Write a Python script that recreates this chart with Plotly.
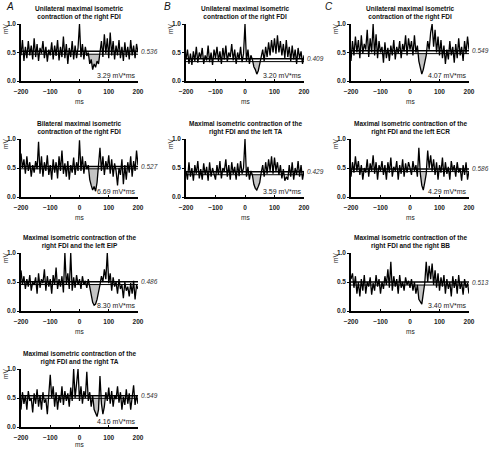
import plotly.graph_objects as go

# ---------------- data ----------------
ms = list(range(-200, 205, 5))

A1 = [0.45,0.72,0.35,0.6,0.4,0.7,0.45,0.62,0.38,0.75,0.42,0.65,0.35,0.58,0.48,0.7,0.4,0.6,0.34,0.55,
      0.45,0.68,0.38,0.62,0.44,0.72,0.36,0.6,0.42,0.78,0.4,0.65,0.3,0.58,0.42,0.7,0.38,0.62,0.4,0.58,
      1.0,
      0.42,0.65,0.38,0.6,0.44,0.5,0.3,0.38,0.2,0.3,0.24,0.35,0.3,0.5,0.7,0.42,0.82,0.48,0.75,0.4,
      0.85,0.45,0.7,0.38,0.62,0.45,0.72,0.4,0.6,0.35,0.68,0.42,0.6,0.38,0.72,0.45,0.62,0.4,0.65,0.5]

B1 = [0.38,0.55,0.3,0.48,0.28,0.52,0.35,0.6,0.32,0.5,0.4,0.58,0.3,0.45,0.36,0.62,0.33,0.5,0.28,0.55,
      0.4,0.6,0.35,0.52,0.3,0.58,0.38,0.62,0.34,0.5,0.42,0.65,0.36,0.55,0.3,0.5,0.38,0.6,0.33,0.48,
      1.0,
      0.35,0.55,0.3,0.45,0.38,0.25,0.2,0.12,0.18,0.3,0.42,0.55,0.35,0.6,0.42,0.68,0.45,0.72,0.5,0.75,
      0.48,0.8,0.5,0.7,0.45,0.65,0.4,0.72,0.42,0.6,0.35,0.62,0.38,0.55,0.3,0.58,0.4,0.52,0.3,0.45]

C1 = [0.35,0.7,0.45,0.78,0.5,0.72,0.4,0.8,0.48,0.65,0.55,0.9,0.42,0.75,0.5,1.0,0.45,0.82,0.4,0.7,
      0.5,0.6,0.32,0.68,0.4,0.58,0.35,0.62,0.45,0.72,0.38,0.6,0.48,0.7,0.4,0.65,0.52,0.8,0.45,0.75,
      0.55,
      0.7,0.45,0.8,0.5,0.62,0.35,0.25,0.12,0.2,0.3,0.45,0.7,0.55,0.85,1.0,0.6,0.9,0.5,0.78,0.45,
      0.72,0.4,0.62,0.3,0.55,0.38,0.7,0.45,0.6,0.32,0.65,0.4,0.75,0.45,0.6,0.35,0.7,0.48,0.78,0.55]

A2 = [0.75,0.5,0.65,0.4,0.7,0.45,0.6,0.35,0.55,0.42,0.62,0.48,0.95,0.4,0.7,0.35,0.6,0.45,0.72,0.38,
      0.55,0.3,0.65,0.42,0.6,0.32,0.7,0.45,0.8,0.4,0.58,0.35,0.62,0.3,0.55,0.42,0.68,0.38,0.6,0.45,
      0.98,
      0.45,0.7,0.4,0.62,0.48,0.55,0.3,0.2,0.12,0.18,0.1,0.25,0.5,0.85,0.45,0.7,0.38,0.62,0.48,0.72,
      0.4,0.65,0.35,0.58,0.45,0.2,0.5,0.38,0.65,0.22,0.55,0.3,0.6,0.42,0.7,0.35,0.62,0.45,0.8,0.55]

B2 = [0.45,0.3,0.6,0.35,0.5,0.28,0.55,0.4,0.62,0.32,0.48,0.3,0.58,0.38,0.52,0.28,0.6,0.35,0.5,0.42,
      0.3,0.55,0.38,0.62,0.32,0.5,0.45,0.65,0.35,0.55,0.3,0.6,0.4,0.52,0.3,0.58,0.36,0.62,0.4,0.5,
      1.0,
      0.35,0.52,0.3,0.45,0.38,0.22,0.15,0.12,0.18,0.25,0.42,0.55,0.35,0.6,0.4,0.65,0.45,0.7,0.4,0.68,
      0.45,0.6,0.38,0.55,0.32,0.48,0.28,0.35,0.3,0.55,0.35,0.6,0.3,0.5,0.38,0.62,0.35,0.55,0.3,0.45]

C2 = [0.35,0.6,0.42,0.7,0.45,0.62,0.38,0.55,0.3,0.5,0.42,0.65,0.35,0.58,0.45,0.72,0.4,0.6,0.3,0.55,
      0.45,0.62,0.38,0.55,0.3,0.6,0.42,0.68,0.35,0.52,0.45,0.62,0.3,0.55,0.4,0.65,0.35,0.58,0.42,0.6,
      0.5,
      0.38,0.62,0.45,0.55,0.35,0.85,0.4,0.2,0.12,0.25,0.4,0.8,0.5,0.72,0.45,0.65,0.38,0.6,0.3,0.55,
      0.42,0.68,0.35,0.6,0.4,0.52,0.3,0.62,0.45,0.55,0.35,0.6,0.42,0.5,0.28,0.55,0.38,0.6,0.3,0.45]

A3 = [0.7,0.45,0.6,0.38,0.55,0.42,0.62,0.35,0.5,0.45,0.58,0.3,0.65,0.4,0.55,0.48,0.72,0.35,0.6,0.42,
      0.55,0.3,0.62,0.45,0.75,0.38,0.55,0.42,0.6,0.32,1.0,0.45,0.65,0.38,1.0,0.35,0.58,0.4,0.62,0.45,
      0.55,
      0.38,0.6,0.45,0.52,0.4,0.55,0.42,0.25,0.15,0.1,0.12,0.2,0.3,0.45,0.6,0.5,0.72,0.55,1.0,0.48,
      0.65,0.35,0.58,0.42,0.5,0.3,0.55,0.38,0.45,0.22,0.5,0.35,0.42,0.25,0.48,0.3,0.52,0.2,0.45,0.38]

A4 = [0.3,0.6,0.4,0.55,0.3,0.62,0.45,0.5,0.25,0.58,0.4,0.65,0.35,0.55,0.3,0.6,0.42,0.48,0.22,0.55,
      0.9,0.5,0.7,0.35,0.6,0.3,0.55,0.42,0.7,0.38,0.62,0.45,0.58,0.35,0.68,0.45,1.0,0.5,0.72,1.0,
      0.45,
      0.7,0.4,0.62,0.5,0.95,0.45,0.6,0.35,0.55,0.3,0.25,0.18,0.3,0.88,0.4,0.22,0.35,0.6,0.45,0.68,
      0.4,0.62,0.35,0.55,0.48,0.7,0.42,0.6,0.3,0.52,0.38,0.65,0.4,0.58,0.3,0.5,0.72,0.38,0.55,0.4]

C3 = [0.55,0.65,0.4,0.6,0.3,0.5,0.25,0.55,0.35,0.62,0.3,0.5,0.42,0.58,0.28,0.48,0.35,0.62,0.42,0.55,
      0.3,0.5,0.38,0.6,0.45,0.72,0.4,0.85,0.35,0.6,0.42,0.55,0.3,0.62,0.4,0.5,0.35,0.58,0.45,0.52,
      0.4,
      0.55,0.35,0.5,0.3,0.45,0.2,0.15,0.12,0.3,0.48,0.85,0.5,0.78,0.55,0.82,0.45,0.7,0.4,0.65,0.35,
      0.58,0.42,0.62,0.3,0.55,0.38,0.5,0.25,0.6,0.4,0.55,0.3,0.62,0.38,0.5,0.28,0.55,0.4,0.48,0.3]

panel_traces = [A1, B1, C1, A2, B2, C2, A3, C3, A4]
panel_cols = [0, 1, 2, 0, 1, 2, 0, 2, 0]
panel_rows = [0, 0, 0, 1, 1, 1, 2, 2, 3]
upper_levels = [0.52, 0.39, 0.53, 0.526, 0.436, 0.483, 0.503, 0.50, 0.54]
lower_levels = [0.47, 0.34, 0.48, 0.486, 0.384, 0.438, 0.456, 0.448, 0.495]
level_labels = ["0.536", "0.409", "0.549", "0.527", "0.429", "0.586", "0.486", "0.513", "0.549"]
area_labels = ["3.29 mV*ms", "3.20 mV*ms", "4.07 mV*ms", "6.69 mV*ms", "3.59 mV*ms",
               "4.29 mV*ms", "8.30 mV*ms", "3.40 mV*ms", "4.16 mV*ms"]
shade_windows = [(30, 70), (25, 55), (30, 55), (35, 65), (25, 55), (35, 55), (35, 70), (25, 50), (50, 85)]
titles = [
    "Unilateral maximal isometric<br>contraction of the right FDI",
    "Unilateral maximal isometric<br>contraction of the right FDI",
    "Unilateral maximal isometric<br>contraction of the right FDI",
    "Bilateral maximal isometric<br>contraction of the right FDI",
    "Maximal isometric contraction of the<br>right FDI and the left TA",
    "Maximal isometric contraction of the<br>right FDI and the left ECR",
    "Maximal isometric contraction of the<br>right FDI and the left EIP",
    "Maximal isometric contraction of the<br>right FDI and the right BB",
    "Maximal isometric contraction of the<br>right FDI and the right TA",
]
letters = ["A", "B", "C"]
x_ticks = [-200, -100, 0, 100, 200]
y_ticks = [0, 0.5, 1.0]
y_ticktext = ["0.0", "0.5", "1.0"]

# ---------------- layout geometry (pixels) ----------------
W, H = 490, 449
col_px = [(21, 138), (186, 304), (351, 469)]
row_px = [(24, 81), (139, 197), (253, 311), (369, 427)]
ms_shift = [-16, -16, -16, -13]
letter_px = [4, 162, 323]

FONT = "Liberation Sans, Arial, sans-serif"
fig = go.Figure()
layout = dict(template="none", width=W, height=H, autosize=False,
              margin=dict(l=0, r=0, t=0, b=0, pad=0),
              paper_bgcolor="white", plot_bgcolor="white", showlegend=False,
              font=dict(family=FONT, color="#111"))
annotations = []

for i, vals in enumerate(panel_traces):
    k = i + 1
    xa = "x" if k == 1 else f"x{k}"
    ya = "y" if k == 1 else f"y{k}"
    c, r = panel_cols[i], panel_rows[i]
    x0, x1 = col_px[c]
    y0, y1 = row_px[r]
    layout["xaxis" if k == 1 else f"xaxis{k}"] = dict(
        domain=[x0 / W, x1 / W], range=[-200, 200], anchor=ya,
        showline=True, linecolor="black", linewidth=1.5, showgrid=False, zeroline=False,
        ticks="inside", ticklen=2, tickcolor="black", tickvals=x_ticks,
        tickfont=dict(family=FONT, size=6.5, color="#222", weight="bold"), ticklabelstandoff=3)
    layout["yaxis" if k == 1 else f"yaxis{k}"] = dict(
        domain=[1 - y1 / H, 1 - y0 / H], range=[0, 1.0], anchor=xa,
        showline=True, linecolor="black", linewidth=1.5, showgrid=False, zeroline=False,
        ticks="outside", ticklen=2, tickcolor="black", tickvals=y_ticks, ticktext=y_ticktext,
        tickfont=dict(family=FONT, size=6.5, color="#222", weight="bold"))

    # shaded area between lower line and trace
    w0, w1 = shade_windows[i]
    lo = lower_levels[i]
    sx = [m for m in ms if w0 <= m <= w1]
    sy = [min(v, lo) for m, v in zip(ms, vals) if w0 <= m <= w1]
    fig.add_trace(go.Scatter(x=sx, y=[lo] * len(sx), mode="lines", line=dict(width=0),
                             xaxis=xa, yaxis=ya, hoverinfo="skip"))
    fig.add_trace(go.Scatter(x=sx, y=sy, mode="lines", line=dict(width=0), fill="tonexty",
                             fillcolor="#c4c4c4", xaxis=xa, yaxis=ya, hoverinfo="skip"))
    # trace
    fig.add_trace(go.Scatter(x=ms, y=vals, mode="lines", line=dict(color="black", width=1.3),
                             xaxis=xa, yaxis=ya))
    # level lines
    fig.add_trace(go.Scatter(x=[-200, 200], y=[upper_levels[i]] * 2, mode="lines",
                             line=dict(color="black", width=1.5), xaxis=xa, yaxis=ya))
    fig.add_trace(go.Scatter(x=[-200, 200], y=[lo] * 2, mode="lines",
                             line=dict(color="black", width=1), xaxis=xa, yaxis=ya))

    annotations += [
        dict(text=titles[i], xref=f"{xa} domain", yref=f"{ya} domain", x=0.5, y=1,
             xanchor="center", yanchor="bottom", yshift=1, showarrow=False,
             font=dict(family=FONT, size=6.5, weight="bold", color="#111")),
        dict(text=level_labels[i], xref=xa, yref=ya, x=200, y=upper_levels[i],
             xanchor="left", yanchor="middle", xshift=2, borderpad=0, showarrow=False,
             font=dict(family=FONT, size=6.5, style="italic", color="#333")),
        dict(text=area_labels[i], xref=xa, yref=ya, x=200, y=0, xanchor="right",
             yanchor="bottom", showarrow=False, font=dict(family=FONT, size=7, color="#222")),
        dict(text="ms", xref=f"{xa} domain", yref=f"{ya} domain", x=0.5, y=0,
             xanchor="center", yanchor="top", yshift=ms_shift[r], borderpad=0, showarrow=False,
             font=dict(family=FONT, size=6.5, color="#222")),
        dict(text="mV", xref=f"{xa} domain", yref=f"{ya} domain", x=0, y=1,
             xanchor="center", yanchor="top", xshift=-16, yshift=2, textangle=-90,
             showarrow=False, font=dict(family=FONT, size=6.5, color="#222")),
    ]

for c, L in enumerate(letters):
    annotations.append(dict(text=L, xref="paper", yref="paper", x=letter_px[c] / W,
                            y=1 - 7 / H, xanchor="left", yanchor="middle", showarrow=False,
                            font=dict(family=FONT, size=10, style="italic", color="#111")))

layout["annotations"] = annotations
fig.update_layout(**layout)
fig.write_html("out.html", config={"displayModeBar": False},
               post_script="document.body.style.margin='0';document.body.style.padding='0';")
